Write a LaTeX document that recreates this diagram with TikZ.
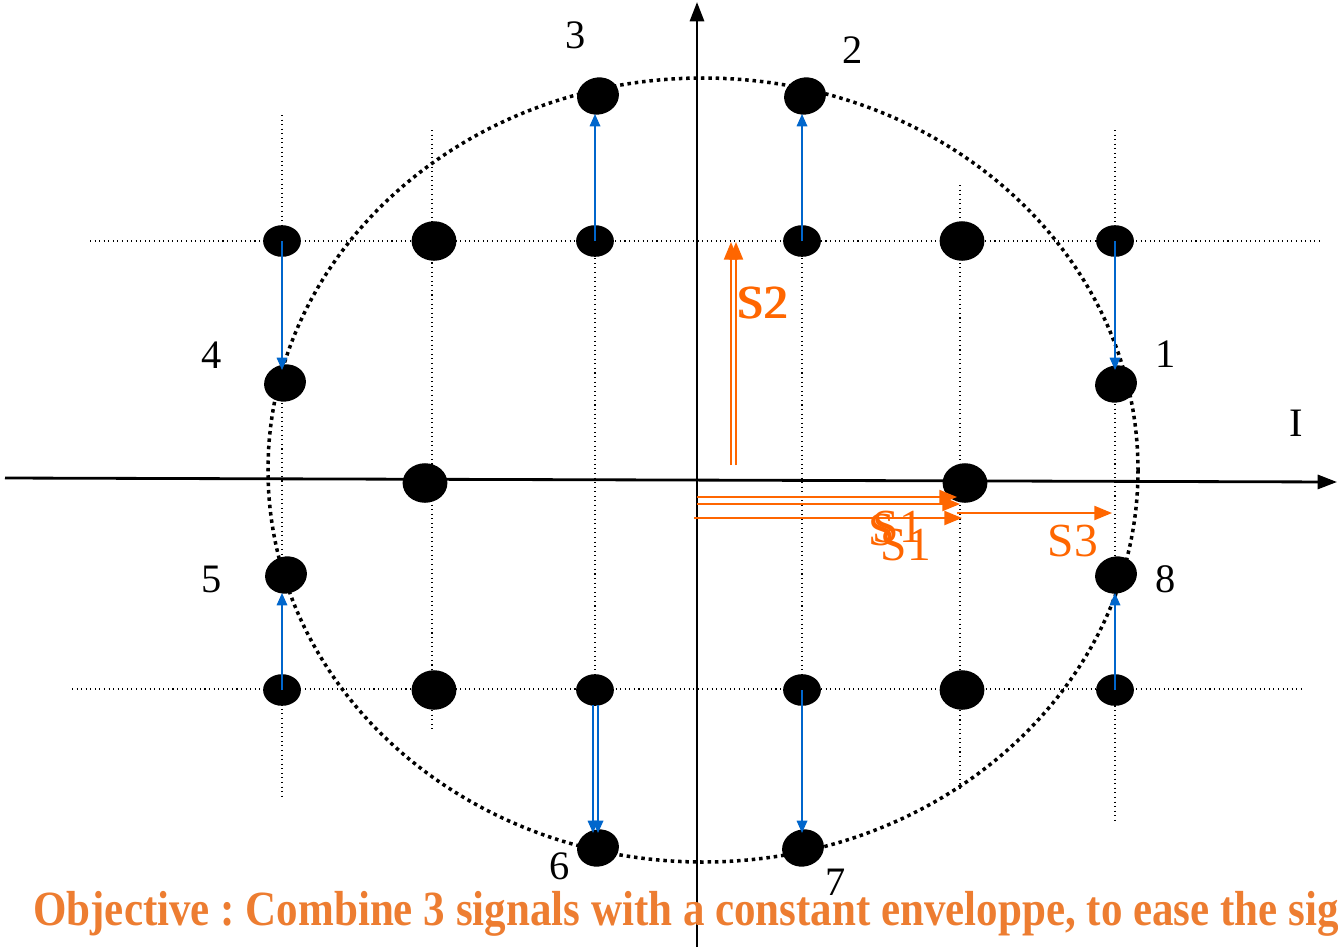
\documentclass[tikz,border=0pt]{standalone}
\usepackage{fontspec}
\setmainfont{Liberation Serif}
\usetikzlibrary{arrows, arrows.meta, shapes.geometric}
\definecolor{sigorange}{RGB}{255,102,0}
\definecolor{txtorange}{RGB}{237,125,49}
\definecolor{movblue}{RGB}{0,102,204}
\tikzset{dot/.style = {shape = ellipse, fill = black, inner sep = 0pt, minimum width = 21.5pt, minimum height = 18pt}}
\tikzset{bigdot/.style = {dot, minimum width = 25.5pt, minimum height = 22.5pt}}
\tikzset{ptdot/.style = {dot, minimum width = 24pt, minimum height = 21pt, rotate = 15}}
\tikzset{grid/.style = {line width = 0.6pt, dotted}}
\tikzset{axis/.style = {line width = 1.6pt, -{Triangle[length = 11pt, width = 8pt]}}}
\tikzset{move/.style = {movblue, line width = 0.9pt, -{Triangle[length = 7pt, width = 6pt]}}}
\tikzset{sig/.style = {sigorange, line width = 1pt, -{Triangle[length = 10pt, width = 8pt]}}}
\tikzset{lbl/.style = {font = \fontsize{23}{26}\selectfont, inner sep = 0pt}}
\tikzset{siglbl/.style = {text = sigorange, font = \fontsize{27}{30}\selectfont, inner sep = 0pt}}

\begin{document}
\frenchspacing
\begin{tikzpicture}[x = 0.02cm, y = -0.02cm]
				\useasboundingbox (0, 0) rectangle (1338, 947);
				\clip (0, 0) rectangle (1338, 947);

				% grid
				\draw[grid] (90, 241) -- (1320, 241);
				\draw[grid] (72, 689) -- (1305, 689);
				\draw[grid] (282, 115) -- (282, 800);
				\draw[grid] (432, 130) -- (432, 730);
				\draw[grid] (595, 240) -- (595, 700);
				\draw[grid] (802, 240) -- (802, 840);
				\draw[grid] (960, 185) -- (960, 790);
				\draw[grid] (1115, 130) -- (1115, 820);

				% constant envelope
				\draw[line width = 2pt, dash pattern = on 2pt off 2.2pt] (703, 470) ellipse [x radius = 435, y radius = 392];

				% axes
				\coordinate (xl) at (5, 478);
				\coordinate (xr) at (1337, 482);
				\coordinate (yb) at (697, 947);
				\coordinate (yt) at (697, 2);
				\draw[axis] (xl) -- (xr);
				\draw[axis] (yb) -- (yt);

				% 16-QAM points
				\node[dot] (a1) at (282, 241) {};
				\node[bigdot] (a2) at (434, 241) {};
				\node[dot] (a3) at (595, 241) {};
				\node[dot] (a4) at (802, 241) {};
				\node[bigdot] (a5) at (962, 241) {};
				\node[dot] (a6) at (1115, 241) {};
				\node[bigdot] (b1) at (425, 483) {};
				\node[bigdot] (b2) at (965, 483) {};
				\node[dot] (c1) at (282, 690) {};
				\node[bigdot] (c2) at (434, 690) {};
				\node[dot] (c3) at (595, 690) {};
				\node[dot] (c4) at (802, 690) {};
				\node[bigdot] (c5) at (962, 690) {};
				\node[dot] (c6) at (1115, 690) {};

				% 8-PSK points
				\node[ptdot] (p1) at (1116, 384) {};
				\node[ptdot] (p2) at (805, 96) {};
				\node[ptdot] (p3) at (598, 96) {};
				\node[ptdot] (p4) at (285, 383) {};
				\node[ptdot] (p5) at (286, 575) {};
				\node[ptdot] (p6) at (598, 848) {};
				\node[ptdot] (p7) at (803, 848) {};
				\node[ptdot] (p8) at (1116, 575) {};

				\node[lbl] (n1) at (1166, 354) {1};
				\node[lbl] (n2) at (853, 50) {2};
				\node[lbl] (n3) at (576, 35) {3};
				\node[lbl] (n4) at (212, 355) {4};
				\node[lbl] (n5) at (212, 579) {5};
				\node[lbl] (n6) at (560, 866) {6};
				\node[lbl] (n7) at (836, 882) {7};
				\node[lbl] (n8) at (1166, 579) {8};
				\node[lbl] (ni) at (1296, 423) {I};

				% moves onto the circle
				\draw[move] (a1.center) -- (282, 370);
				\draw[move] (a3.center) -- (595, 114);
				\draw[move] (a4.center) -- (802, 114);
				\draw[move] (a6.center) -- (1115, 370);
				\draw[move] (c1.center) -- (282, 593);
				\draw[move] (593, 705) -- (593, 833);
				\draw[move] (598, 705) -- (598, 833);
				\draw[move] (c4.center) -- (802, 833);
				\draw[move] (c6.center) -- (1115, 593);

				% signals
				\coordinate (s2a) at (731, 465);
				\coordinate (s2b) at (731, 242);
				\coordinate (s2c) at (736, 465);
				\coordinate (s2d) at (736, 242);
				\draw[sig] (s2a) -- (s2b);
				\draw[sig] (s2c) -- (s2d);
				\node[siglbl] (l2) at (762, 303) {S2};
				\node[siglbl] (l2b) at (764, 303) {S2};

				\coordinate (s1a) at (697, 497);
				\coordinate (s1b) at (957, 497);
				\coordinate (s1c) at (697, 504);
				\coordinate (s1d) at (960, 504);
				\coordinate (s1e) at (694, 518);
				\coordinate (s1f) at (962, 518);
				\draw[sig] (s1a) -- (s1b);
				\draw[sig] (s1c) -- (s1d);
				\draw[sig] (s1e) -- (s1f);
				\node[siglbl] (l1a) at (882, 530) {S};
				\node[siglbl] (l1b) at (898, 527) {S1};
				\node[siglbl] (l1c) at (906, 545) {S1};

				\coordinate (s3a) at (957, 513);
				\coordinate (s3b) at (1112, 513);
				\draw[sig] (s3a) -- (s3b);
				\node[siglbl] (l3) at (1073, 541) {S3};

				\node[anchor = west, text = txtorange, inner sep = 0pt, xscale = 0.874, font = \fontsize{28}{30}\selectfont\bfseries] (obj) at (33, 914) {Objective : Combine 3 signals with a constant enveloppe, to ease the signal};
			\end{tikzpicture}
\end{document}
